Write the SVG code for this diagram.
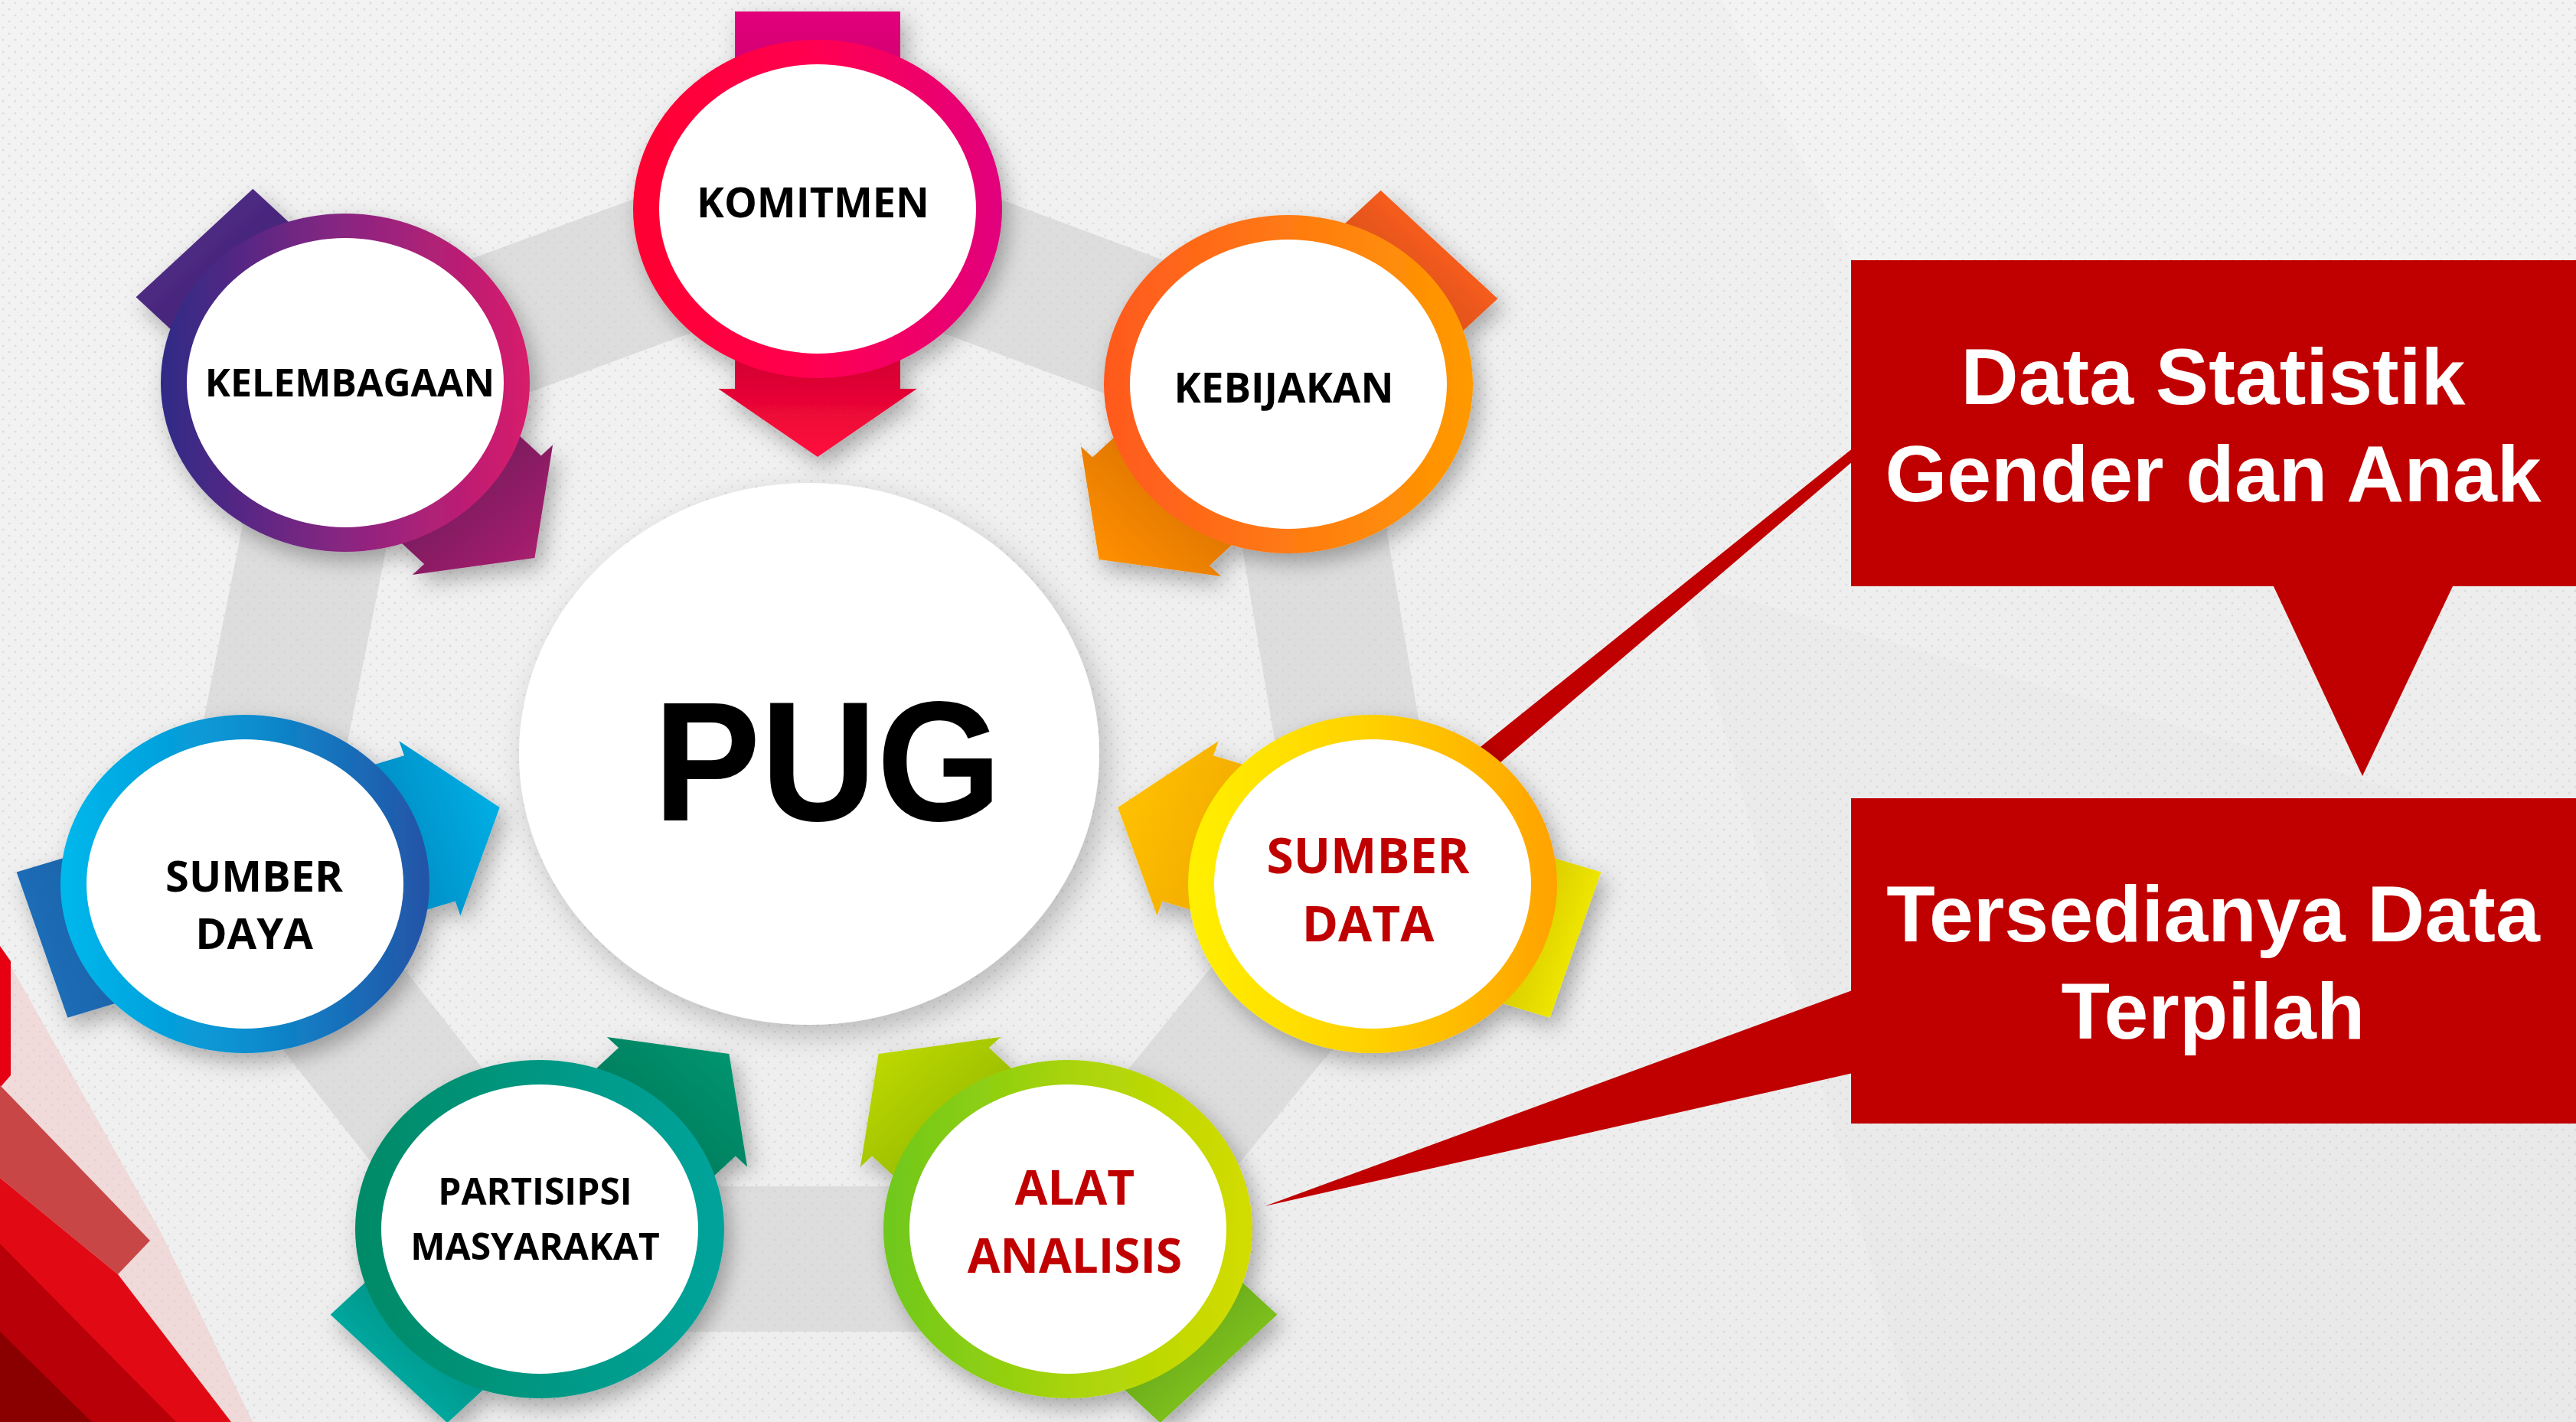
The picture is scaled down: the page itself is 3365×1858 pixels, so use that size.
<svg xmlns="http://www.w3.org/2000/svg" width="3365" height="1858" viewBox="0 0 3365 1858">
<defs>
<style>
.lbl{font-family:"Open Sans","Liberation Sans",sans-serif;font-weight:700;text-anchor:middle;fill:#000}
.red{fill:#c00000}
.box{fill:#c00000}
.btxt{font-family:"Liberation Sans",Arial,sans-serif;font-weight:700;font-size:104px;fill:#fff;text-anchor:middle}
.inner{fill:#fff}
</style>
<pattern id="dots" width="16" height="16" patternUnits="userSpaceOnUse">
<circle cx="4" cy="4" r="1.5" fill="#cfcfcf"/><circle cx="12" cy="12" r="1.5" fill="#cfcfcf"/>
</pattern>
<filter id="sh" x="-30%" y="-30%" width="160%" height="160%"><feDropShadow dx="8" dy="12" stdDeviation="14" flood-color="#000" flood-opacity="0.3"/></filter>
<filter id="shb" x="-20%" y="-20%" width="140%" height="140%"><feDropShadow dx="10" dy="14" stdDeviation="18" flood-color="#000" flood-opacity="0.22"/></filter>
<linearGradient id="bg" x1="0" y1="0" x2="1" y2="1"><stop offset="0" stop-color="#f3f3f3"/><stop offset="1" stop-color="#ebebeb"/></linearGradient>
<linearGradient id="kR" x1="0" y1="0" x2="1" y2="0"><stop offset="0" stop-color="#ff0030"/><stop offset="0.5" stop-color="#ff0052"/><stop offset="1" stop-color="#e1007c"/></linearGradient>
<linearGradient id="lR" x1="0" y1="0" x2="1" y2="0"><stop offset="0" stop-color="#2e2a86"/><stop offset="0.5" stop-color="#8a2581"/><stop offset="1" stop-color="#d81b6b"/></linearGradient>
<linearGradient id="bR" x1="0" y1="0" x2="1" y2="0"><stop offset="0" stop-color="#ff591f"/><stop offset="0.5" stop-color="#ff7a12"/><stop offset="1" stop-color="#ff9a00"/></linearGradient>
<linearGradient id="sR" x1="0" y1="0" x2="1" y2="0"><stop offset="0" stop-color="#00b8ec"/><stop offset="0.5" stop-color="#0a8fd0"/><stop offset="1" stop-color="#2453a6"/></linearGradient>
<linearGradient id="dR" x1="0" y1="0" x2="1" y2="0"><stop offset="0" stop-color="#fff000"/><stop offset="0.5" stop-color="#ffd000"/><stop offset="1" stop-color="#ffa200"/></linearGradient>
<linearGradient id="pR" x1="0" y1="0" x2="1" y2="0"><stop offset="0" stop-color="#008a66"/><stop offset="0.6" stop-color="#009a88"/><stop offset="1" stop-color="#00a39b"/></linearGradient>
<linearGradient id="aR" x1="0" y1="0" x2="1" y2="0"><stop offset="0" stop-color="#6ec81c"/><stop offset="0.5" stop-color="#a8d40a"/><stop offset="1" stop-color="#d4dc00"/></linearGradient>
<linearGradient id="kH" gradientUnits="userSpaceOnUse" x1="150" y1="0" x2="320" y2="0"><stop offset="0" stop-color="#c3002c"/><stop offset="1" stop-color="#ff0a3c"/></linearGradient>
<linearGradient id="kT" gradientUnits="userSpaceOnUse" x1="-258" y1="0" x2="-120" y2="0"><stop offset="0" stop-color="#e2007a"/><stop offset="1" stop-color="#c4006a"/></linearGradient>
<linearGradient id="lH" gradientUnits="userSpaceOnUse" x1="150" y1="0" x2="320" y2="0"><stop offset="0" stop-color="#6f185a"/><stop offset="1" stop-color="#a6206e"/></linearGradient>
<linearGradient id="lT" gradientUnits="userSpaceOnUse" x1="-258" y1="0" x2="-120" y2="0"><stop offset="0" stop-color="#4e2a82"/><stop offset="1" stop-color="#3a2070"/></linearGradient>
<linearGradient id="bH" gradientUnits="userSpaceOnUse" x1="150" y1="0" x2="320" y2="0"><stop offset="0" stop-color="#d66f00"/><stop offset="1" stop-color="#ff8f00"/></linearGradient>
<linearGradient id="bT" gradientUnits="userSpaceOnUse" x1="-258" y1="0" x2="-120" y2="0"><stop offset="0" stop-color="#f65c1e"/><stop offset="1" stop-color="#c74a12"/></linearGradient>
<linearGradient id="sH" gradientUnits="userSpaceOnUse" x1="150" y1="0" x2="320" y2="0"><stop offset="0" stop-color="#0085bd"/><stop offset="1" stop-color="#00aee4"/></linearGradient>
<linearGradient id="sT" gradientUnits="userSpaceOnUse" x1="-258" y1="0" x2="-120" y2="0"><stop offset="0" stop-color="#1f6db7"/><stop offset="1" stop-color="#1a5a9e"/></linearGradient>
<linearGradient id="dH" gradientUnits="userSpaceOnUse" x1="150" y1="0" x2="320" y2="0"><stop offset="0" stop-color="#f0a800"/><stop offset="1" stop-color="#ffc000"/></linearGradient>
<linearGradient id="dT" gradientUnits="userSpaceOnUse" x1="-258" y1="0" x2="-120" y2="0"><stop offset="0" stop-color="#eee600"/><stop offset="1" stop-color="#c2b000"/></linearGradient>
<linearGradient id="pH" gradientUnits="userSpaceOnUse" x1="150" y1="0" x2="320" y2="0"><stop offset="0" stop-color="#00785a"/><stop offset="1" stop-color="#00956f"/></linearGradient>
<linearGradient id="pT" gradientUnits="userSpaceOnUse" x1="-258" y1="0" x2="-120" y2="0"><stop offset="0" stop-color="#00a79d"/><stop offset="1" stop-color="#008378"/></linearGradient>
<linearGradient id="aH" gradientUnits="userSpaceOnUse" x1="150" y1="0" x2="320" y2="0"><stop offset="0" stop-color="#94b800"/><stop offset="1" stop-color="#bcd800"/></linearGradient>
<linearGradient id="aT" gradientUnits="userSpaceOnUse" x1="-258" y1="0" x2="-120" y2="0"><stop offset="0" stop-color="#7cbf1e"/><stop offset="1" stop-color="#5a9a12"/></linearGradient>
<path id="tail" d="M-258,-100H0V100H-258Z"/>
<path id="head" d="M0,-100H235V-120L324,0L235,120V100H0Z"/>
</defs>

<!-- background -->
<rect x="0" y="0" width="3365" height="1858" fill="url(#bg)"/>
<polygon points="2250,0 3365,0 3365,520 2600,700" fill="#f7f7f7" opacity="0.4"/>
<polygon points="2200,760 3365,1100 3365,1858 2500,1858" fill="#e6e6e6" opacity="0.35"/>
<polygon points="1068,273 1683,502 1793,1155 1395,1645 705,1645 320,1155 451,500" fill="none" stroke="#dddddd" stroke-width="190" stroke-linejoin="round"/>
<rect x="0" y="0" width="3365" height="1858" fill="url(#dots)" opacity="0.6"/>

<!-- red corner shapes -->
<g id="corner">
<polygon points="14,1262 210,1610 330,1858 0,1858 0,1421 14,1405" fill="#f0c4c4" opacity="0.5"/>
<polygon points="0,1236 14,1256 14,1405 0,1421" fill="#e60012"/>
<polygon points="0,1418 196,1621 154,1665 0,1539" fill="#c84646"/>
<polygon points="0,1539 154,1665 302,1858 0,1858" fill="#e10a14"/>
<polygon points="0,1625 230,1858 0,1858" fill="#b80008"/>
<polygon points="0,1740 120,1858 0,1858" fill="#8a0000"/>
</g>

<!-- centre -->
<g id="node-pug" filter="url(#shb)">
<ellipse cx="1057" cy="985" rx="379" ry="354" fill="#fff"/>
<text x="1081" y="1072" font-family="Liberation Sans, Arial, sans-serif" font-weight="700" font-size="223" text-anchor="middle" textLength="455" lengthAdjust="spacingAndGlyphs" fill="#000">PUG</text>
</g>

<!-- connectors -->
<g id="connectors">
<polygon points="1911,1038 1889,1012 2426,581 2434,591" fill="#c00000"/>
<polygon points="1652,1576 2425,1292 2425,1401" fill="#c00000"/>
</g>

<!-- nodes -->
<g id="node-komitmen" filter="url(#sh)">
<g transform="translate(1068,273) scale(1.08,1) rotate(90)"><use href="#tail" fill="url(#kT)"/><use href="#head" fill="url(#kH)"/></g>
<ellipse cx="1068" cy="273" rx="241" ry="221" fill="url(#kR)"/>
<ellipse class="inner" cx="1068" cy="273" rx="207" ry="189"/>
<text class="lbl" x="1062" y="284" font-size="54">KOMITMEN</text>
</g>

<g id="node-kelembagaan" filter="url(#sh)">
<g transform="translate(451,500) scale(1.08,1) rotate(45)"><use href="#tail" fill="url(#lT)"/><use href="#head" fill="url(#lH)"/></g>
<ellipse cx="451" cy="500" rx="241" ry="221" fill="url(#lR)"/>
<ellipse class="inner" cx="451" cy="500" rx="207" ry="189"/>
<text class="lbl" x="457" y="518" font-size="50">KELEMBAGAAN</text>
</g>

<g id="node-kebijakan" filter="url(#sh)">
<g transform="translate(1683,502) scale(1.08,1) rotate(135)"><use href="#tail" fill="url(#bT)"/><use href="#head" fill="url(#bH)"/></g>
<ellipse cx="1683" cy="502" rx="241" ry="221" fill="url(#bR)"/>
<ellipse class="inner" cx="1683" cy="502" rx="207" ry="189"/>
<text class="lbl" x="1677" y="526" font-size="53">KEBIJAKAN</text>
</g>

<g id="node-sumber-daya" filter="url(#sh)">
<g transform="translate(320,1155) scale(1.08,1) rotate(-18)"><use href="#tail" fill="url(#sT)"/><use href="#head" fill="url(#sH)"/></g>
<ellipse cx="320" cy="1155" rx="241" ry="221" fill="url(#sR)"/>
<ellipse class="inner" cx="320" cy="1155" rx="207" ry="189"/>
<text class="lbl" x="332" y="1165" font-size="56">SUMBER</text>
<text class="lbl" x="332" y="1240" font-size="56">DAYA</text>
</g>

<g id="node-sumber-data" filter="url(#sh)">
<g transform="translate(1793,1155) scale(1.08,1) rotate(198)"><use href="#tail" fill="url(#dT)"/><use href="#head" fill="url(#dH)"/></g>
<ellipse cx="1793" cy="1155" rx="241" ry="221" fill="url(#dR)"/>
<ellipse class="inner" cx="1793" cy="1155" rx="207" ry="189"/>
<text class="lbl red" x="1787" y="1141" font-size="64">SUMBER</text>
<text class="lbl red" x="1787" y="1230" font-size="64">DATA</text>
</g>

<g id="node-partisipasi" filter="url(#sh)">
<g transform="translate(705,1606) scale(1.08,1) rotate(-45)"><use href="#tail" fill="url(#pT)"/><use href="#head" fill="url(#pH)"/></g>
<ellipse cx="705" cy="1606" rx="241" ry="221" fill="url(#pR)"/>
<ellipse class="inner" cx="705" cy="1606" rx="207" ry="189"/>
<text class="lbl" x="699" y="1574" font-size="48">PARTISIPSI</text>
<text class="lbl" x="699" y="1646" font-size="48">MASYARAKAT</text>
</g>

<g id="node-alat-analisis" filter="url(#sh)">
<g transform="translate(1395,1606) scale(1.08,1) rotate(225)"><use href="#tail" fill="url(#aT)"/><use href="#head" fill="url(#aH)"/></g>
<ellipse cx="1395" cy="1606" rx="241" ry="221" fill="url(#aR)"/>
<ellipse class="inner" cx="1395" cy="1606" rx="207" ry="189"/>
<text class="lbl red" x="1404" y="1574" font-size="62">ALAT</text>
<text class="lbl red" x="1404" y="1663" font-size="62">ANALISIS</text>
</g>

<!-- callouts -->
<g id="callout-data-statistik">
<rect class="box" x="2418" y="340" width="947" height="426"/>
<polygon class="box" points="2969,764 3205,764 3086,1014"/>
<text class="btxt" x="2891" y="528">Data Statistik</text>
<text class="btxt" x="2891" y="655">Gender dan Anak</text>
</g>
<g id="callout-data-terpilah">
<rect class="box" x="2418" y="1043" width="947" height="425"/>
<text class="btxt" x="2891" y="1230">Tersedianya Data</text>
<text class="btxt" x="2891" y="1357">Terpilah</text>
</g>
</svg>
